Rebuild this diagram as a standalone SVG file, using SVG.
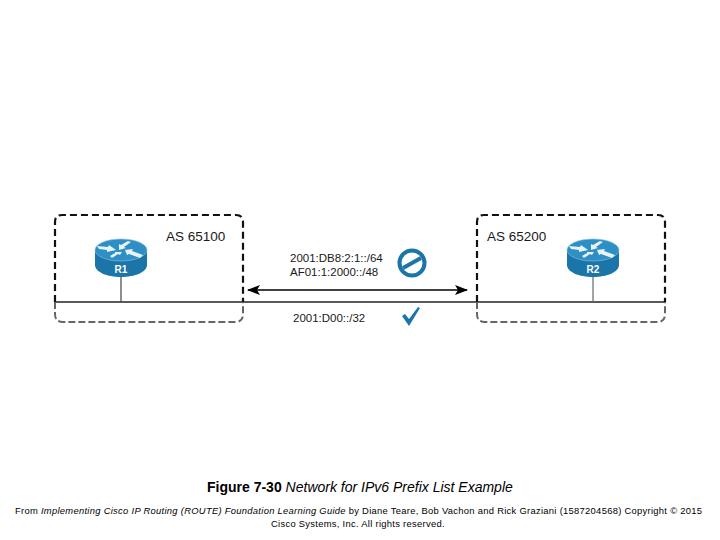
<svg xmlns="http://www.w3.org/2000/svg" width="720" height="540" viewBox="0 0 720 540">
<style>
text{font-family:"Liberation Sans",Arial,sans-serif;fill:#1a1a1a}
.lab{font-size:11.5px}
.as{font-size:13.5px}
.rt{font-size:10px;font-weight:bold;fill:#fff;text-anchor:middle}
.foot{font-size:9.4px;fill:#000;letter-spacing:.295px}
.top{fill:none;stroke:#111;stroke-width:2.2;stroke-dasharray:7 4}
.bot{fill:none;stroke:#666;stroke-width:2;stroke-dasharray:7 3}
.body{fill:#1c75a8}
.cap{fill:#2e8fc4;stroke:#8cc3e0;stroke-width:.6}
.arr{fill:#e8f2f8}
</style>
<defs>
<marker id="a" markerWidth="14" markerHeight="10" refX="12" refY="5" orient="auto-start-reverse" markerUnits="userSpaceOnUse"><path d="M0 0L13 5L0 10L3 5Z" fill="#000"/></marker>
<g id="router">
<path class="body" d="M-26 0V15C-26 22-14 27 0 27S26 22 26 15V0Z"/>
<ellipse class="cap" cx="0" cy="0" rx="26" ry="11"/>
<path class="arr" d="M-24-4L-13-3-12-5-5 0-14 2-14 0-22-1ZM10-8L3-3 5-2-2 0-2-6 0-5 7-9ZM22 5L11 1 12-1 4 0 6 5 8 4 19 8ZM-9 8L-3 4-1 5 1 2-6 2-6 3-11 6Z"/>
</g>
</defs>
<g id="connectors">
<line x1="55" y1="302" x2="665" y2="302" stroke="#222" stroke-width="1.6"/>
<line x1="121" y1="277" x2="121" y2="302" stroke="#444" stroke-width="1.2"/>
<line x1="593" y1="277" x2="593" y2="302" stroke="#666" stroke-width="1.2"/>
<line x1="248" y1="290" x2="467" y2="290" stroke="#000" stroke-width="1.6" marker-start="url(#a)" marker-end="url(#a)"/>
</g>
<g id="as65100">
<path class="top" d="M55 302V222Q55 215 62 215H236Q243 215 243 222V302"/>
<path class="bot" d="M55 302V314Q55 322 63 322H235Q243 322 243 314V302"/>
<text class="as" x="166" y="241">AS 65100</text>
</g>
<g id="as65200">
<path class="top" d="M477 302V222Q477 215 484 215H658Q665 215 665 222V302"/>
<path class="bot" d="M477 302V314Q477 322 485 322H657Q665 322 665 314V302"/>
<text class="as" x="487" y="241">AS 65200</text>
</g>
<g id="r1"><use href="#router" x="121" y="250"/><text class="rt" x="121" y="273">R1</text></g>
<g id="r2"><use href="#router" x="593" y="250"/><text class="rt" x="593" y="273">R2</text></g>
<g id="denied">
<text class="lab" x="290" y="262">2001:DB8:2:1::/64</text>
<text class="lab" x="290" y="276">AF01:1:2000::/48</text>
<circle cx="412" cy="263" r="12.5" fill="none" stroke="#1c75a8" stroke-width="4"/>
<line x1="403" y1="268" x2="421" y2="258" stroke="#1c75a8" stroke-width="4"/>
</g>
<g id="permitted">
<text class="lab" x="293" y="322">2001:D00::/32</text>
<path d="M402 316L405 314 409 319 418 307 420 308 409 326Z" fill="#1c75a8"/>
</g>
<g id="caption">
<text x="207" y="492" font-size="14" style="fill:#000"><tspan font-weight="bold">Figure 7-30</tspan> <tspan font-style="italic">Network for IPv6 Prefix List Example</tspan></text>
<text class="foot" x="15" y="514">From <tspan font-style="italic">Implementing Cisco IP Routing (ROUTE) Foundation Learning Guide</tspan> by Diane Teare, Bob Vachon and Rick Graziani (1587204568) Copyright © 2015</text>
<text class="foot" x="271" y="527">Cisco Systems, Inc. All rights reserved.</text>
</g>
</svg>
